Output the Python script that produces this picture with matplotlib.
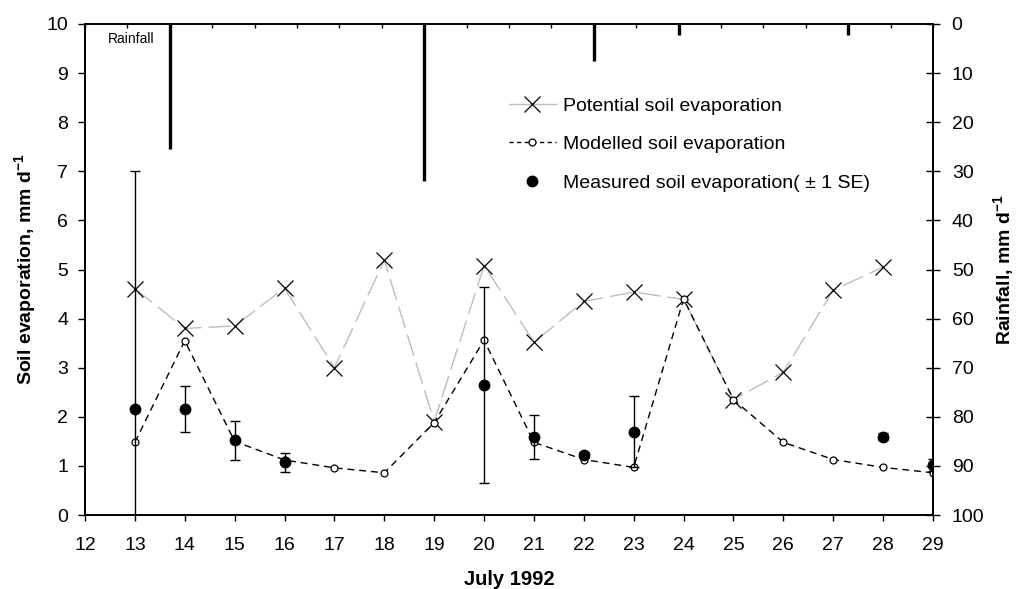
import matplotlib
matplotlib.use("Agg")
import matplotlib.pyplot as plt
from matplotlib.lines import Line2D

plt.rcParams['font.family'] = ['Liberation Sans', 'DejaVu Sans']
plt.rcParams['mathtext.fontset'] = 'custom'
plt.rcParams['mathtext.rm'] = 'Liberation Sans'
plt.rcParams['mathtext.bf'] = 'Liberation Sans:bold'
plt.rcParams['mathtext.default'] = 'bf'

# ---- data ----
pot_days = [13, 14, 15, 16, 17, 18, 19, 20, 21, 22, 23, 24, 25, 26, 27, 28]
potential = [4.61, 3.80, 3.85, 4.62, 3.00, 5.19, 1.90, 5.08, 3.52, 4.35, 4.54, 4.39, 2.35, 2.91, 4.58, 5.05]

mod_days = [13, 14, 15, 16, 17, 18, 19, 20, 21, 22, 23, 24, 25, 26, 27, 28, 29]
modelled = [1.48, 3.55, 1.50, 1.12, 0.96, 0.86, 1.88, 3.56, 1.48, 1.13, 0.97, 4.40, 2.35, 1.48, 1.13, 0.97, 0.86]

meas_days = [13, 14, 15, 16, 20, 21, 22, 23, 28, 29]
measured = [2.16, 2.16, 1.52, 1.07, 2.65, 1.59, 1.22, 1.70, 1.59, 1.02]
meas_se = [4.84, 0.47, 0.40, 0.20, 2.00, 0.45, 0.06, 0.72, 0.07, 0.13]

rain_idx = [2, 8, 12, 14, 18]
rainfall = [25.5, 32.0, 7.5, 2.2, 2.2]

x_ticks = list(range(12, 30))
y_ticks = list(range(0, 11))
rain_ticks = list(range(0, 101, 10))

# ---- figure ----
fig = plt.figure(figsize=(10.18, 5.89), dpi=100)
W, H = 1018, 589
ax = fig.add_axes([85 / W, 1 - 515 / H, 848 / W, 491 / H])
ax.set_xlim(12, 29)
ax.set_ylim(0, 10)

ax.plot(pot_days, potential, color='#bdbdbd', lw=1.0, linestyle=(0, (16, 5)),
        marker='x', ms=11, mec='black', mew=0.9, zorder=2)
ax.plot(mod_days, modelled, color='black', lw=1.0, linestyle=(0, (5, 3.5)),
        marker='o', ms=5, mfc='white', mec='black', mew=0.9, zorder=3)
ax.errorbar(meas_days, measured, yerr=meas_se, fmt='o', color='black', ms=7.5,
            ecolor='black', elinewidth=1.0, capsize=3.5, capthick=1.0, zorder=4)

ax.set_xticks(x_ticks)
ax.set_yticks(y_ticks)
ax.tick_params(axis='both', labelsize=14, direction='out', width=1.0)
ax.tick_params(axis='x', length=4, pad=11.5)
ax.tick_params(axis='y', length=5, pad=7)
for s in ax.spines.values():
    s.set_linewidth(1.1)

ax.set_xlabel('July 1992', fontsize=14.5, fontweight='bold', labelpad=12)
ax.set_ylabel(r'Soil evaporation, mm d$^{-1}$', fontsize=14, fontweight='bold', labelpad=6)

ax.text(12.45, 9.7, 'Rainfall', fontsize=10, ha='left', va='center')

# right axis (rainfall)
ax2 = ax.twinx()
ax2.set_ylim(100, 0)
ax2.set_yticks(rain_ticks)
ax2.tick_params(axis='y', labelsize=14, direction='inout', length=10, width=1.0, pad=8.5)
ax2.set_ylabel(r'Rainfall, mm d$^{-1}$', fontsize=14, fontweight='bold', labelpad=5)
for s in ax2.spines.values():
    s.set_linewidth(1.1)

# top axis for rainfall bars
ax3 = ax2.twiny()
ax3.set_xlim(0, 20)
ax3.set_xticks(range(0, 21))
ax3.tick_params(axis='x', top=True, bottom=False, labeltop=False, labelbottom=False,
                direction='in', length=3, width=1.0)
ax3.vlines(rain_idx, 0, rainfall, color='black', lw=2.4)
for s in ax3.spines.values():
    s.set_linewidth(1.1)

handles = [
    Line2D([], [], color='#bdbdbd', lw=1.0, marker='x', ms=11, mec='black', mew=0.9),
    Line2D([], [], color='black', lw=1.0, linestyle=(0, (3, 2.5)), marker='o', ms=5,
           mfc='white', mec='black', mew=0.9),
    Line2D([], [], color='black', lw=0, marker='o', ms=7.5),
]
labels = ['Potential soil evaporation', 'Modelled soil evaporation',
          'Measured soil evaporation( \u00b1 1 SE)']
ax3.legend(handles, labels, loc='upper left', bbox_to_anchor=(509 / W, 1 - 97 / H),
           bbox_transform=fig.transFigure, frameon=False, fontsize=14,
           handlelength=2.4, handletextpad=0.4, labelspacing=1.08, borderpad=0,
           borderaxespad=0)

fig.savefig('out.png', dpi=100)
